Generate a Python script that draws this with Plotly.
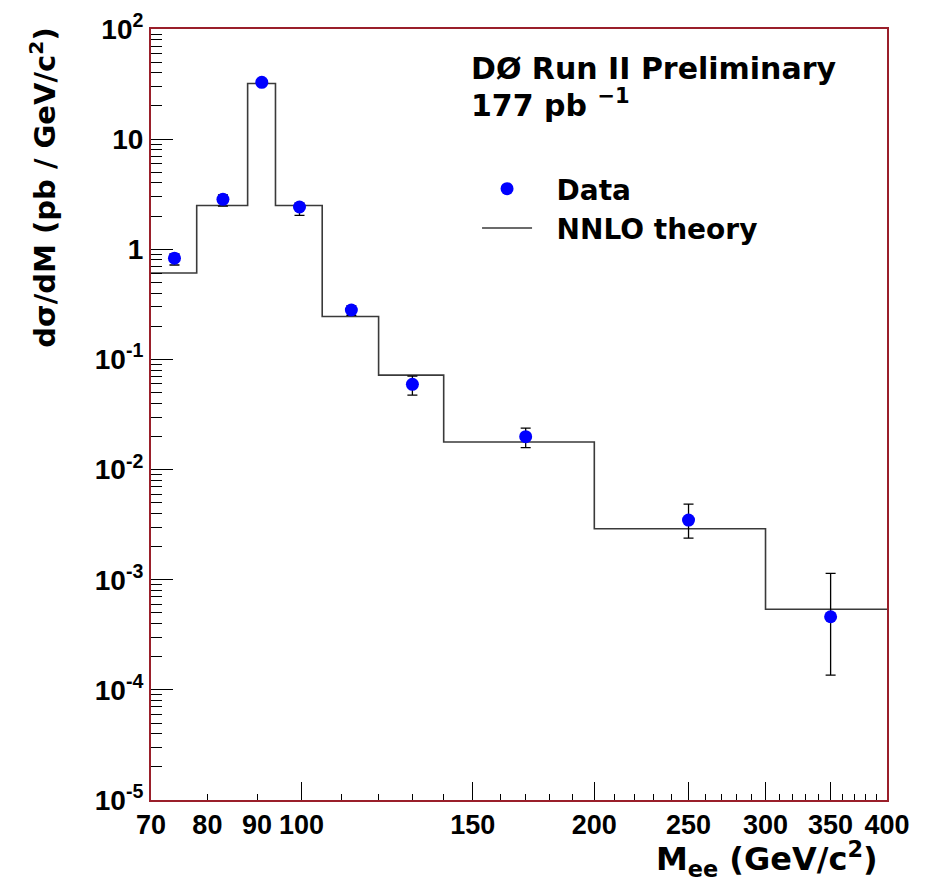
import numpy as np
import plotly.graph_objects as go

# Dielectron invariant-mass bins (GeV/c^2) and NNLO prediction per bin (pb / GeV/c^2)
mass_edges = [70, 78, 88, 94, 105, 120, 140, 200, 300, 400]
nnlo_xsec = [0.61, 2.5, 32.0, 2.5, 0.245, 0.072, 0.0178, 0.0029, 0.00054]

# Measured points (bin centres) with asymmetric uncertainties
data_mass = [74, 83, 91, 99.5, 112.5, 130, 170, 250, 350]
data_xsec = [0.83, 2.84, 32.8, 2.42, 0.281, 0.0594, 0.0199, 0.00348, 0.000461]
err_up = [0.08, 0.27, 1.5, 0.21, 0.025, 0.011, 0.0039, 0.00138, 0.00068]
err_down = [0.11, 0.37, 1.5, 0.39, 0.03, 0.012, 0.0041, 0.00109, 0.000325]

# Axis tick labels
x_tick_vals = [70, 80, 90, 100, 150, 200, 250, 300, 350, 400]
x_long_ticks = [100, 150, 200, 250, 300, 350]
x_minor_ticks = [m for m in range(110, 400, 10) if m % 50 != 0]
y_tick_vals = [10.0 ** k for k in range(-5, 3)]
y_tick_text = ["10<sup>-5</sup>", "10<sup>-4</sup>", "10<sup>-3</sup>", "10<sup>-2</sup>",
               "10<sup>-1</sup>", "1", "10", "10<sup>2</sup>"]
y_minor_ticks = [d * 10.0 ** k for k in range(-5, 2) for d in range(2, 10)]

FRAME = "#9a1f2a"
TICK_FONT = dict(family="Liberation Sans, Arial, sans-serif", size=28, color="black", weight="bold")
TEXT_FONT = dict(family="DejaVu Sans, sans-serif", size=29, color="black", weight="bold")
NBSP = "\u00a0\u00a0"

# Step histogram: repeat the last level so the final bin reaches the upper edge
step_y = nnlo_xsec + [nnlo_xsec[-1]]

fig = go.Figure()

fig.add_trace(go.Scatter(
    x=mass_edges, y=step_y, mode="lines", line_shape="hv",
    line=dict(color="#3a3a3a", width=1.6),
    name=NBSP + "NNLO theory", legendrank=2,
))

fig.add_trace(go.Scatter(
    x=data_mass, y=data_xsec, mode="markers",
    marker=dict(color="#0000ff", size=13, line=dict(width=0)),
    error_y=dict(type="data", symmetric=False, array=err_up, arrayminus=err_down,
                 color="black", thickness=1.3, width=5),
    name=NBSP + "Data", legendrank=1,
))

# Empty trace that carries the overlay axis used for the long x ticks
fig.add_trace(go.Scatter(x=[], y=[], xaxis="x2", showlegend=False, hoverinfo="skip"))

fig.update_layout(
    width=928, height=881,
    margin=dict(l=151, r=41, t=29, b=81),
    paper_bgcolor="white", plot_bgcolor="white",
    showlegend=True,
    legend=dict(
        x=0.443, y=0.825, xanchor="left", yanchor="top",
        font=dict(TEXT_FONT, size=28), itemwidth=50, bgcolor="rgba(0,0,0,0)",
        tracegroupgap=0,
    ),
    xaxis=dict(
        type="log", range=[np.log10(70), np.log10(400)], automargin=False,
        showgrid=False, zeroline=False,
        showline=True, linecolor=FRAME, linewidth=2, mirror=True,
        tickmode="array", tickvals=x_tick_vals, ticktext=[str(v) for v in x_tick_vals],
        ticks="inside", ticklen=6, tickwidth=1.3, tickcolor="black",
        tickfont=dict(TICK_FONT, size=27), ticklabelstandoff=0,
        minor=dict(tickmode="array", tickvals=x_minor_ticks, ticks="inside",
                   ticklen=6, tickwidth=1.2, tickcolor="black", showgrid=False),
    ),
    xaxis2=dict(
        type="log", range=[np.log10(70), np.log10(400)], automargin=False,
        overlaying="x", anchor="y", side="bottom",
        showgrid=False, zeroline=False, showline=False,
        tickmode="array", tickvals=x_long_ticks, showticklabels=False,
        ticks="inside", ticklen=18, tickwidth=1.3, tickcolor="black",
    ),
    yaxis=dict(
        type="log", range=[-5, 2], automargin=False,
        showgrid=False, zeroline=False,
        showline=True, linecolor=FRAME, linewidth=2, mirror=True,
        tickmode="array", tickvals=y_tick_vals, ticktext=y_tick_text,
        ticks="inside", ticklen=22, tickwidth=1.3, tickcolor="black",
        tickfont=TICK_FONT, ticklabelstandoff=0,
        minor=dict(tickmode="array", tickvals=y_minor_ticks, ticks="inside",
                   ticklen=11, tickwidth=1.2, tickcolor="black", showgrid=False),
    ),
    annotations=[
        dict(text="DØ Run II Preliminary", xref="paper", yref="paper",
             x=0.432, y=0.9494, xanchor="left", yanchor="middle",
             showarrow=False, font=dict(TEXT_FONT, size=30)),
        dict(text="177 pb <sup>−1</sup>", xref="paper", yref="paper",
             x=0.432, y=0.903, xanchor="left", yanchor="middle",
             showarrow=False, font=dict(TEXT_FONT, size=30)),
        dict(text="dσ/dM (pb / GeV/c<sup>2</sup>)", xref="paper", yref="paper",
             x=-0.147, y=0.794, xanchor="center", yanchor="middle", textangle=-90,
             showarrow=False, font=TEXT_FONT),
        dict(text="M<sub>ee</sub> (GeV/c<sup>2</sup>)", xref="paper", yref="paper",
             x=0.99, y=-0.077, xanchor="right", yanchor="middle",
             showarrow=False, font=dict(TEXT_FONT, size=32)),
    ],
)

fig.write_html("out.html")
